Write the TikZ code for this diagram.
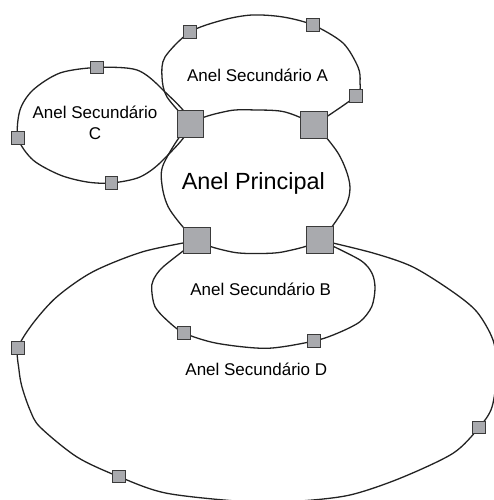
\documentclass[tikz,border=0pt]{standalone}
\usepackage{fontspec}
\setmainfont{Liberation Sans}
\usetikzlibrary{backgrounds}

\definecolor{boxfill}{HTML}{A9AAAE}
\definecolor{boxline}{HTML}{3A3A3A}
\definecolor{ringline}{HTML}{222222}

\tikzset{
  hub/.style={rectangle, draw=boxline, fill=boxfill, line width=1.3pt,
              minimum size=26.5pt, inner sep=0pt},
  station/.style={rectangle, draw=boxline, fill=boxfill, line width=1.1pt,
              minimum size=12.5pt, inner sep=0pt},
  ring/.style={draw=ringline, line width=1.3pt},
  lbl/.style={anchor=base, align=center, font=\fontsize{17}{21.7}\selectfont}
}

\begin{document}
\begin{tikzpicture}[x=1pt,y=1pt]
    \useasboundingbox (0,0) rectangle (494,500);

    % Define nodes
    \node[hub]     (TL) at (190.5,376) {};
    \node[hub]     (TR) at (314,375)   {};
    \node[hub]     (BL) at (197,259.5) {};
    \node[hub]     (BR) at (320,260)   {};

    \node[station] (a1) at (190,468)   {};
    \node[station] (a2) at (313,475)   {};
    \node[station] (a3) at (356,404)   {};
    \node[station] (c1) at (97,432.5)  {};
    \node[station] (c2) at (18,362)    {};
    \node[station] (c3) at (111.5,317) {};
    \node[station] (b1) at (184,167)   {};
    \node[station] (b2) at (314,159)   {};
    \node[station] (d1) at (18,152)    {};
    \node[station] (d2) at (479,72.5)  {};
    \node[station] (d3) at (119,23.3)  {};

    % Labels
    \node[lbl] (labA) at (257.5,418.3) {Anel Secundário A};
    \node[lbl] (labC) at (95,360)      {Anel Secundário\\C};
    \node[lbl, font=\fontsize{23.4}{28}\selectfont] (labP) at (253.3,310) {Anel Principal};
    \node[lbl] (labB) at (260.7,204)   {Anel Secundário B};
    \node[lbl] (labD) at (256.3,124)   {Anel Secundário D};

    % Connect the nodes
    \begin{pgfonlayer}{background}
    \begin{scope}
    \clip (0,0) rectangle (494,500);
    % main ring
    \draw[ring] plot[smooth cycle] coordinates {(TL.center) (228,389) (256,390)
        (285,388) (TR.center) (336,350) (346,330) (350,312) (345,293)
        (BR.center) (285,248.5) (260,246.5) (232,248) (BL.center) (170,290)
        (162,315) (164,337)};
    % ring A
    \draw[ring] plot[smooth] coordinates {(TR.center) (a3.center) (360,418)
        (358,433) (343,457) (a2.center) (283,483) (252,485) (223,480)
        (a1.center) (165,443) (162,423) (167,403) (TL.center)};
    % ring C
    \draw[ring] plot[smooth cycle] coordinates {(TL.center) (163,410) (137,430)
        (c1.center) (60,427) (33,410) (20,390) (c2.center) (33,340) (60,325)
        (87,318) (c3.center) (140,323) (163,340)};
    % ring B
    \draw[ring] plot[smooth] coordinates {(BR.center) (360,240) (372,226.7)
        (375,211.7) (371.7,193.3) (360,178.3) (338,167) (b2.center)
        (267,151.7) (217,156.7) (b1.center) (166.7,180) (155,193.3)
        (151.7,210) (153.3,220) (163.3,233.3) (BL.center)};
    % ring D
    \draw[ring] plot[smooth] coordinates {(BL.center) (143,248.3) (93,228.3)
        (57,203.3) (33,176.7) (d1.center) (19,130) (22,113) (30,90) (40,73)
        (77,43) (d3.center) (167,6.7) (250,-2) (300,-1) (350,5) (400,21.7)
        (453,46.7) (d2.center) (492,93) (497,130) (493,160) (477,188)
        (453,208) (413,233) (373,247) (BR.center)};
    \end{scope}
    \end{pgfonlayer}

\end{tikzpicture}
\end{document}
